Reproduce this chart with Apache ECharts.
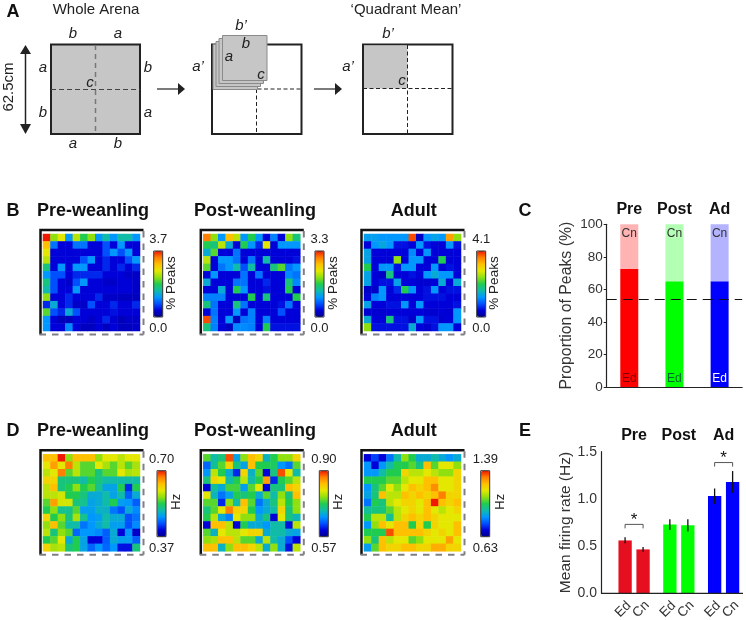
<!DOCTYPE html>
<html>
<head>
<meta charset="utf-8">
<script src="https://cdn.jsdelivr.net/npm/echarts@6/dist/echarts.min.js"></script>
<style>
html,body{margin:0;padding:0;background:#fff;}
#main{width:746px;height:620px;}
</style>
</head>
<body>
<div id="main"></div>
<script>
// heat maps: each cell is read as a position on its colour bar, 0 (bottom) to 10 (top)
var peaksPre = [
[10,6,7,3,6.5,5,6,3,4,3,4,4,3],
[8,2.5,1,1,2.5,2.5,1,1,2,1,3,1,1],
[7,1,1,1,1,1,1,1,2,3,2,3,1],
[6.5,1,1,1,1,2,3,1,1.5,1,1,2,3],
[4.5,1,3,1,3,3,1,1,1.5,1,1.5,1,1.5],
[3,2,2,1,1.5,1.5,1.5,1.5,1,1,1,.8,.8],
[4.5,2,1,.8,2,3,1,1,.8,.8,1,1,.8],
[4,2,1,1,3,1,1,1,1,1,1,1,.8],
[6,1,1,1.5,1,1,1,1.5,.8,.8,.7,.7,.7],
[1.5,3.5,1,1.5,.8,.8,2,1,1,1.5,1,1,1.5],
[5.5,2,1.5,3.5,2,1,1,1,1,1.2,1,1,1],
[3,1,.6,.6,1,1,.8,1,1.5,.9,.6,.8,.8],
[3,1,1,2.8,1,.7,.7,1,.7,1,.7,.7,.8]
];
var peaksPost = [
[9,6,3,8,6.5,3,5,3,1,2.7,1,6,4.5],
[5,4.5,6.5,3.5,1,5,3,1.5,7,1,3,3,3],
[3.5,5.5,1,1,2.5,1,1,1,1,1,1,1,1],
[6.5,1,3,3,2.5,1,2.5,1,4,1,1,1,1.2],
[5.5,1,2.5,3,4,2,4,1,1,4.5,5.5,2.5,3],
[1,3,1,1,1,2.5,1,2.5,1,1,1,2.8,2.5],
[3.5,1,1,1,2.5,2.5,1,1,1.5,1,1,4.5,2.8],
[1,1,3.5,1,5,3,1,1,1.2,1,1,5,1],
[2.7,2.7,2.7,1,1,1,5,1,4.5,1,1,1,5],
[4.5,2.5,1,1,4.5,2.5,1,1,1,1,1.2,2.5,1],
[1,2.5,1,1,3,1,2.7,1,1,1,2,1,1],
[9.5,2.7,1,3,.7,2.5,2.7,1,2.7,1,1,1,1],
[4.5,2.7,1,.7,2.8,2.8,2.7,1,5,1.2,1.2,1.2,1.2]
];
var peaksAdult = [
[3.2,3.2,3,3,3,3,9.5,.8,3,3.3,3,8.5,6],
[1,3,3.4,3,1.2,1.2,1,3,1.2,1,1,3,1.2],
[3.3,1,1,1,1,1,2.8,1,3,1,1,1,1],
[3.3,1,1,1,6,1,3,3,1,1,5,1,1],
[5,1,3,3,1.2,3,3,1,1,3,1,1.2,1],
[3.3,1,.8,4.5,1,1,1.2,1,3,3.5,3,3,1],
[3.3,1,1.2,1.2,3.3,1,1,.9,.9,1,3.5,1,3.5],
[.8,.8,3,1,1.5,5,3,1,1.2,3,1,1.2,1.2],
[1,2.7,3,1,1,1,1,1,1.2,1.2,1.2,1,1],
[3.3,1,1,1.2,1.2,3,1,3,1,1,1,1,1.2],
[.9,.9,.9,1,1,1,1,1,.9,.9,1,.9,3],
[3.5,1,1,4.5,1.2,1.2,.8,3,1.2,1.2,.9,1,3],
[6,1.2,1.2,1.2,1.2,1.2,3.5,1,.9,1.2,3,3,1]
];
var ratePre = [
[8,8,10,6,8,8,8,6,7,7,6.5,7,7],
[7,8.5,7,9,6.5,5.5,5.5,7,6.3,5.5,6.5,5.5,6.3],
[6.5,7,9,5.5,6.5,5.5,5.5,4.5,5.5,5.5,7,6.3,6.5],
[7.5,7.5,4.5,4.5,4.5,4,5,4.5,4,4,4,4,4],
[6.5,8,4.5,5,6,5,5.5,4.3,3.3,3.3,5,1.5,5],
[6.5,6.5,6.8,5,5,4.5,3.5,3.5,4,3.3,4,2.2,3.5],
[5.5,8.5,6.8,6.8,4.5,4.3,3.3,3.5,4,5,3.2,3,2.2],
[5,6,4.3,4.3,5.5,3.2,3.2,3.7,3.7,2.5,2,3.5,2.8],
[7.5,5,6,4.5,6.3,4.3,3,3.2,4,3.5,3.5,2,2.5],
[6,8,5.5,4,4,2.5,3,3.5,4,3.2,3.2,2,2.8],
[6.5,4.5,6,5.5,2.3,3,3,2.8,2.2,3.5,1,3,.8],
[5,5.5,7,3.5,5,3.3,1,1,2.2,3.5,3.2,3.2,2.2],
[7.5,6.3,6.5,4.5,5,3.3,2.3,3,2.3,3,1.2,1.2,4.5]
];
var ratePost = [
[5.5,4,4.5,9.5,3.3,6,8,7.5,3.7,5,6,6,7.5],
[2.3,4.2,5.5,7.5,4.5,3.3,8,5,5,4.8,3,2.5,5.5],
[3,6.5,5,3.5,1.5,7.5,3.7,5.5,1,4.5,9.5,7,4],
[4.5,7.5,7,4,5,6.5,4,5,8.5,1.5,5,5.5,6.5],
[1,4.2,3.5,5.3,5.3,3.2,5.5,7,1,4.5,4.5,8,7.5],
[7,3.8,2.5,3.3,5,4.5,5,3.5,5.5,4,6,4.5,8],
[5.5,5.5,1.5,6,4,8,5.5,2.5,3.5,4.5,6.5,5,6],
[4.5,5.5,7,9,7.5,7.5,5,3,3.5,4,7.5,4.5,6],
[5,6.5,3.5,2.7,7,6,6,3.5,4.5,1,7,4.5,3.8],
[1,8,8,6.5,1,5,3.5,3.5,3,4,4,1.2,6.5],
[5.5,3.7,7,6.5,6.5,7,7.5,7.5,3.5,4,4,3.5,3.3],
[6,6.3,8,8,6.5,5.5,5.5,3.5,6.5,4,3.5,2,1],
[8,8,3.7,6,8,8,7.5,6.5,3.5,6,3.5,1.2,6.5]
];
var rateAdult = [
[1,1.8,1,2.5,4,6,5,3.5,3.5,4,3.5,3,3.5],
[3,1,3,4,5,5,5.5,4.5,8,5.5,7,7,6],
[3,3,4,5,5,7.5,6.5,6.5,7,6.5,6,6,7.5],
[5,5,5,5.5,5.5,6.5,7,7,8,8,7,7,7.5],
[3,4.5,5.5,7,6,7,8,7.5,8,8.8,7,7,7.5],
[3.3,4.5,8,6.5,6.5,8,7.5,8,7.5,8,9,7.5,7.5],
[2.5,5,4.5,6.5,7,7.5,7.5,7,8,10,8,7.5,8],
[4.2,4.5,4.5,5.5,6.5,7,7.5,7,8,7,6.5,7,7.5],
[5,6.5,6.5,4.2,6.5,7.5,8,7.5,8,7.5,7,7,7],
[3,6,8,7,8,8,5,7.5,5,7.5,7,7,8],
[5,5,5,9.5,8,8,8,8,7.5,7,7.5,7,8],
[6,4.5,8,6.5,7,7,5.5,6,7,7,7,8.5,7],
[3.2,5.5,8,7.5,7.5,8,8,7.5,7.5,8.3,8.3,7.5,7.5]
];
var heatCells = [peaksPre,peaksPost,peaksAdult,ratePre,ratePost,rateAdult];
var heatLow = ['0.0','0.0','0.0','0.37','0.57','0.63'];
var heatHigh = ['3.7','3.3','4.1','0.70','0.90','1.39'];
var heatUnit = ['% Peaks','% Peaks','% Peaks','Hz','Hz','Hz'];
var heatTitle = ['Pre-weanling','Post-weanling','Adult'];

// panel C
var ageShort = ['Pre','Post','Ad'];
var peaksEd = [72.7,65,65];
var peaksCn = [27.3,35,35];
var chanceLevel = 53.9;

// panel E
var rateEd = [0.56,0.73,1.03];
var rateCn = [0.465,0.72,1.18];
var errEdLow = [0.53,0.67,0.95], errEdHigh = [0.595,0.785,1.11];
var errCnLow = [0.44,0.655,1.065], errCnHigh = [0.49,0.785,1.295];
var sigAge = [0,2];
var sigLevel = [0.73,1.385];

// layout
var fontName = '"Liberation Sans",Arial,sans-serif';
var heatLeft = [43,203.3,364,43,203.3,364];
var heatTop = [234,234,234,454.3,454.3,454.3];
var barLeft = [153.7,315,476.7,157,319.3,480.7];
var barTop = [251,251,251,470.7,470.7,470.7];
var barSize = [66,66,66,66,66,66];
var heatSize = 97;
var jet = ['#00008c','#0000d8','#0050ff','#0098ff','#10bca8','#20cc50','#90e010','#e4e800','#ffc000','#ff8000','#f01800'];
var edColors = ['#ff0000','#00ff00','#0000ff'];
var cnColors = ['#ffb3b3','#b3ffb3','#b3b3ff'];
var edLabelColors = ['#7a0000','#063','#fff'];
var rateColors = ['#e60f20','#00ff00','#0000ff'];

var chart = echarts.init(document.getElementById('main'));
var ui = [];

function txt(s,x,y,size,opt){
    opt = opt || {};
    ui.push({type:'text',x:x,y:y,rotation:opt.rot||0,z:20,style:{
        text:s,fontSize:size,fontFamily:fontName,
        fontWeight:opt.bold?'bold':'normal',fontStyle:opt.italic?'italic':'normal',
        fill:opt.color||'#222',align:'center',verticalAlign:'middle'
    }});
}
function ln(x1,y1,x2,y2,color,w,dash){
    ui.push({type:'line',z:15,shape:{x1:x1,y1:y1,x2:x2,y2:y2},style:{stroke:color,lineWidth:w,lineDash:dash||null}});
}
function box(x,y,w,h,fill,stroke,lw){
    ui.push({type:'rect',z:10,shape:{x:x,y:y,width:w,height:h},style:{fill:fill,stroke:stroke,lineWidth:lw}});
}
function head(pts){
    ui.push({type:'polygon',z:15,shape:{points:pts},style:{fill:'#222'}});
}

/*panel A*/
txt('A',13,12,18,{bold:true,color:'#111'});
txt('Whole Arena',96,9.5,15);
txt('\u2018Quadrant Mean\u2019',406,10,15);
// whole arena
box(51,44.5,89,89.5,'#c6c6c6','#222',2);
ln(95.5,45,95.5,134,'#777',1.5,[5,4]);
ln(51,89.5,140,89.5,'#444',1,[5,3]);
var letters = [['b',73,34],['a',118,34],['a',43,68],['b',148,68],['c',90,83],['b',43,113],['a',148,113],['a',73,144],['b',118,144],
    ['a\u2019',198,67],['b\u2019',241,26],['b',246,44],['a',229,57],['c',261,75],
    ['b\u2019',388,34],['a\u2019',348,67],['c',402,81]];
// double arrow and scale
ln(25.5,52,25.5,127,'#222',1.5);
head([[25.5,45],[20,54],[31,54]]);
head([[25.5,134],[20,124],[31,124]]);
txt('62.5cm',9,87,15,{rot:Math.PI/2});
// arrows between squares
ln(157,89,180,89,'#222',1.2);
head([[185,89],[178,83],[178,95]]);
ln(314,89,337,89,'#222',1.2);
head([[342,89],[335,83],[335,95]]);
// stacked maps
box(212,44.5,89.5,89.5,'#fff','#222',2);
ln(212,89,301,89,'#222',1,[4,2.5]);
ln(256.5,89,256.5,134,'#222',1,[4,2.5]);
var stackX = [213,216,219,222.5], stackY = [44.5,41.5,38.5,35.5];
for(var s=0;s<stackX.length;s++){
    box(stackX[s],stackY[s],44.5,45,'#c6c6c6','#8a8a8a',1);
    ui[ui.length-1].z = 16;
}
// quadrant mean
box(363,44.5,89.5,89.5,'#fff','#222',2);
box(364,45.5,43.5,43,'#c6c6c6','#c6c6c6',0);
ln(363,88.5,452,88.5,'#222',1,[4,2.5]);
ln(407.5,45,407.5,134,'#222',1,[4,2.5]);
for(var l=0;l<letters.length;l++){
    txt(letters[l][0],letters[l][1],letters[l][2],15,{italic:true});
}

/*panel letters and titles*/
txt('B',13,211,18,{bold:true,color:'#111'});
txt('C',525,211,18,{bold:true,color:'#111'});
txt('D',13,431,18,{bold:true,color:'#111'});
txt('E',525,431,18,{bold:true,color:'#111'});
var titleX = [93,255,413.7];
var titleY = [211,431];
for(var r=0;r<2;r++){
    for(var c=0;c<3;c++){
        txt(heatTitle[c],titleX[c],titleY[r],18,{bold:true,color:'#111'});
    }
}

var option = {
    backgroundColor:'#fff',
    animation:false,
    textStyle:{fontFamily:fontName},
    grid:[],xAxis:[],yAxis:[],visualMap:[],series:[],graphic:ui
};

var ticks13 = [0,1,2,3,4,5,6,7,8,9,10,11,12];
heatCells.forEach(function(cells,i){
    var lo = parseFloat(heatLow[i]), hi = parseFloat(heatHigh[i]);
    var data = [];
    cells.forEach(function(row,y){
        row.forEach(function(level,x){
            data.push([x,y,lo+level/10*(hi-lo)]);
        });
    });
    option.grid.push({left:heatLeft[i],top:heatTop[i],width:heatSize,height:heatSize});
    option.xAxis.push({type:'category',gridIndex:i,data:ticks13,show:false});
    option.yAxis.push({type:'category',gridIndex:i,data:ticks13,show:false,inverse:true});
    var w = heatHigh[i].length>3?25:18;
    option.visualMap.push({
        type:'continuous',seriesIndex:i,min:lo,max:hi,calculable:false,
        orient:'vertical',itemWidth:9,itemHeight:barSize[i],padding:0,
        left:barLeft[i]+4.5-w/2,top:barTop[i]-18,
        text:[heatHigh[i],heatLow[i]],textGap:5,
        textStyle:{fontSize:13,color:'#222',fontFamily:fontName},
        inRange:{color:jet}
    });
    option.series.push({type:'heatmap',xAxisIndex:i,yAxisIndex:i,data:data,itemStyle:{borderWidth:0}});

    // frame: black top and left, grey dashes right and bottom
    var fx = heatLeft[i]-2.5, fy = heatTop[i]-4, fr = heatLeft[i]+heatSize+3.5, fb = heatTop[i]+heatSize+3.5;
    ui.push({type:'polyline',z:15,shape:{points:[[fx,fb],[fx,fy],[fr,fy]]},style:{stroke:'#111',lineWidth:2.5,fill:null}});
    ln(fr,fy+1,fr,fb,'#807f85',2,[6.5,6]);
    ln(fx-1,fb,fr,fb,'#807f85',2,[6.5,6]);
    // outline of colour bar, unit label
    ui.push({type:'rect',z:15,shape:{x:barLeft[i],y:barTop[i],width:9,height:barSize[i]},style:{fill:null,stroke:'#333',lineWidth:1}});
    txt(heatUnit[i],barLeft[i]+(i<3?18:19.5),barTop[i]+(i<3?32:31),i<3?13.5:13,{rot:Math.PI/2});
});

/*panel C*/
option.grid.push({left:606.7,top:224.3,width:135.5,height:162.7});
option.xAxis.push({type:'category',gridIndex:6,data:ageShort,axisTick:{show:false},axisLabel:{show:false},axisLine:{lineStyle:{color:'#222',width:1.2}}});
option.xAxis.push({type:'category',gridIndex:6,position:'top',data:ageShort,axisTick:{show:false},axisLine:{show:false},
    axisLabel:{interval:0,margin:7,fontSize:16,fontWeight:'bold',color:'#111'}});
option.yAxis.push({type:'value',gridIndex:6,min:0,max:100,interval:20,
    name:'Proportion of Peaks (%)',nameLocation:'middle',nameGap:32,nameTextStyle:{fontSize:15.8,color:'#333'},
    axisLine:{show:true,lineStyle:{color:'#222',width:1.2}},axisTick:{show:true,length:3,lineStyle:{color:'#222'}},
    splitLine:{show:false},axisLabel:{fontSize:13.5,color:'#333',margin:4}});
option.series.push({type:'bar',xAxisIndex:6,yAxisIndex:6,stack:'peaks',barWidth:18,
    data:peaksEd.map(function(v,i){
        return {value:v,itemStyle:{color:edColors[i]},label:{color:edLabelColors[i]}};
    }),
    label:{show:true,position:'insideBottom',distance:2,formatter:'Ed',fontSize:12},
    markLine:{silent:true,symbol:'none',label:{show:false},data:[{yAxis:chanceLevel}],
        lineStyle:{color:'#111',type:[10,6],width:1.2}}
});
option.series.push({type:'bar',xAxisIndex:6,yAxisIndex:6,stack:'peaks',barWidth:18,
    data:peaksCn.map(function(v,i){
        return {value:v,itemStyle:{color:cnColors[i]}};
    }),
    label:{show:true,position:'insideTop',distance:3,formatter:'Cn',fontSize:12,color:'#333'}
});

/*panel E*/
var dodge = 9;
function errorBars(lows,highs,side){
    return {
        type:'custom',xAxisIndex:8,yAxisIndex:7,z:5,
        data:lows.map(function(v,i){return [i,v,highs[i]];}),
        encode:{x:0,y:[1,2]},
        renderItem:function(params,api){
            var a = api.coord([api.value(0),api.value(1)]);
            var b = api.coord([api.value(0),api.value(2)]);
            var x = a[0]+side*dodge;
            return {type:'line',shape:{x1:x,y1:a[1],x2:x,y2:b[1]},style:{stroke:'#111',lineWidth:1.3}};
        }
    };
}
// the label offset is taken along the rotated text
function rateLabel(name){
    return {show:true,position:['50%','100%'],formatter:name,rotate:45,fontSize:13.5,color:'#333',
        align:'center',verticalAlign:'middle',offset:[-12.7,9.9]};
}
option.grid.push({left:611.7,top:451.7,width:135.9,height:141.6});
option.xAxis.push({type:'category',gridIndex:7,data:ageShort,axisTick:{show:false},axisLabel:{show:false},axisLine:{show:false}});
option.xAxis.push({type:'category',gridIndex:7,position:'top',data:ageShort,axisTick:{show:false},axisLine:{show:false},
    axisLabel:{interval:0,margin:8,fontSize:16,fontWeight:'bold',color:'#111'}});
option.yAxis.push({type:'value',gridIndex:7,min:0,max:1.5,interval:0.5,offset:10.7,
    name:'Mean firing rate (Hz)',nameLocation:'middle',nameGap:26,nameTextStyle:{fontSize:15.5,color:'#333'},
    axisLine:{show:true,lineStyle:{color:'#222',width:1.2}},axisTick:{show:false},
    splitLine:{show:false},axisLabel:{fontSize:14,color:'#333',margin:4,
        formatter:function(v){return v.toFixed(1);}}});
option.series.push({type:'bar',xAxisIndex:8,yAxisIndex:7,barWidth:13.3,barGap:'35%',
    data:rateEd.map(function(v,i){return {value:v,itemStyle:{color:rateColors[i]}};}),label:rateLabel('Ed')});
option.series.push({type:'bar',xAxisIndex:8,yAxisIndex:7,barWidth:13.3,barGap:'35%',
    data:rateCn.map(function(v,i){return {value:v,itemStyle:{color:rateColors[i]}};}),label:rateLabel('Cn')});
option.series.push(errorBars(errEdLow,errEdHigh,-1));
option.series.push(errorBars(errCnLow,errCnHigh,1));
// significance brackets
option.series.push({
    type:'custom',xAxisIndex:8,yAxisIndex:7,z:6,
    data:sigAge.map(function(v,i){return [v,sigLevel[i]];}),
    encode:{x:0,y:1},
    renderItem:function(params,api){
        var p = api.coord([api.value(0),api.value(1)]);
        return {type:'group',children:[
            {type:'polyline',shape:{points:[[p[0]-dodge,p[1]+4],[p[0]-dodge,p[1]],[p[0]+dodge,p[1]],[p[0]+dodge,p[1]+4]]},
                style:{stroke:'#555',lineWidth:1,fill:null}},
            {type:'text',x:p[0],y:p[1]-4,style:{text:'*',fontSize:17,fontFamily:fontName,fill:'#111',align:'center',verticalAlign:'middle'}}
        ]};
    }
});
ln(601,593.3,743,593.3,'#222',1.2);

chart.setOption(option);
</script>
</body>
</html>
